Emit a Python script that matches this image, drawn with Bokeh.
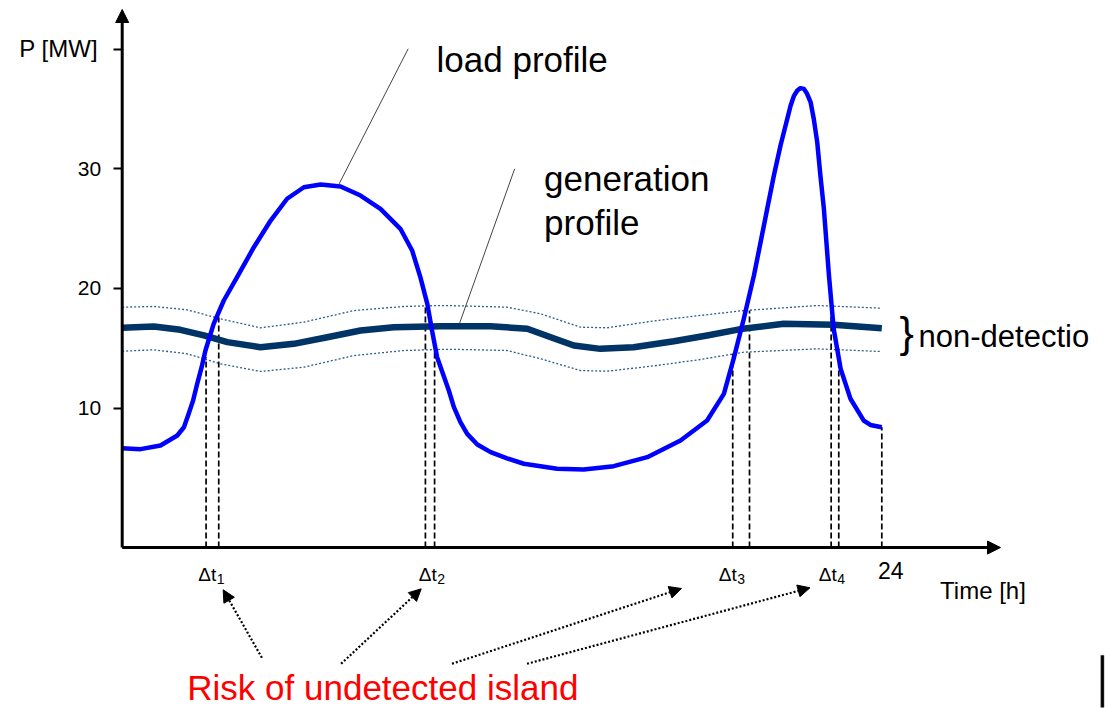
from bokeh.plotting import figure
from bokeh.models import Range1d, LinearAxis, FixedTicker, Arrow, NormalHead
from bokeh.core.properties import value
from bokeh.embed import file_html
from bokeh.resources import INLINE

# ---------------- data (hours, MW) ----------------
load_t = [0, 0.58, 1.21, 1.74, 1.95, 2.10, 2.24, 2.37, 2.51, 2.63, 2.89, 3.21, 3.63, 4.16, 4.69,
          5.21, 5.74, 6.27, 6.90, 7.53, 8.16, 8.79, 9.16, 9.42, 9.64, 9.79, 9.95, 10.32,
          10.48, 10.69, 10.90, 11.22, 11.64, 12.16, 12.69, 13.74, 14.58, 15.53, 16.59, 17.64,
          18.48, 19.01, 19.32, 19.64, 19.96, 20.17, 20.38, 20.59, 20.80, 21.12, 21.22, 21.33,
          21.43, 21.54, 21.64, 21.75, 21.85, 21.96, 22.06, 22.17, 22.25, 22.33, 22.48, 22.70,
          23.01, 23.43, 23.64, 24.0]
load_mw = [6.65, 6.57, 6.88, 7.71, 8.40, 9.52, 10.63, 12.03, 13.42, 14.81, 17.04, 18.99, 20.94,
           23.44, 25.67, 27.49, 28.45, 28.68, 28.51, 27.76, 26.65, 24.98, 23.17, 20.94, 18.71,
           16.48, 14.25, 11.47, 10.08, 8.80, 7.85, 6.96, 6.32, 5.80, 5.35, 4.93, 4.87, 5.15, 5.90,
           7.29, 8.96, 11.19, 14.14, 17.46, 21.08, 23.86, 26.65, 29.43, 31.94, 35.28, 36.06,
           36.53, 36.73, 36.67, 36.26, 35.56, 34.17, 32.21, 29.43, 26.65, 23.86, 21.08, 16.62,
           13.28, 10.78, 8.96, 8.59, 8.40]

gen_t = [0, 1.0, 1.84, 2.58, 3.32, 4.37, 5.42, 6.48, 7.53, 8.58, 10.06, 11.64, 12.80,
         13.54, 14.27, 15.11, 16.16, 17.43, 18.48, 19.54, 20.90, 22.48, 24.0]
gen_mw = [16.71, 16.82, 16.54, 16.07, 15.51, 15.09, 15.37, 15.92, 16.48, 16.76, 16.84, 16.84, 16.63,
          15.92, 15.23, 14.95, 15.09, 15.59, 16.07, 16.60, 17.04, 16.96, 16.67]

band_t = [0, 1.0, 2.05, 3.1, 4.37, 5.74, 7.32, 8.90, 10.06, 10.69, 12.16, 13.22, 14.48,
          15.32, 16.90, 18.27, 19.64, 21.96, 23.96]
band_hi = [18.43, 18.49, 18.21, 17.46, 16.71, 17.18, 18.15, 18.49, 18.57, 18.54, 18.43, 17.88, 16.76,
           16.71, 17.32, 17.74, 18.15, 18.57, 18.35]
band_lo = [14.75, 14.87, 14.54, 13.70, 13.06, 13.42, 14.39, 14.81, 14.90, 14.90, 14.81, 14.12, 13.14,
           13.08, 13.56, 14.06, 14.67, 14.95, 14.73]

cross_t = [2.65, 3.05, 9.58, 9.87, 19.29, 19.82, 22.40, 22.64, 24.0]
cross_top = [14.25, 17.60, 18.57, 14.81, 14.54, 18.15, 18.57, 14.95, 8.40]

y_ticks = [10, 20, 30, 40]
dt_names = ["\u0394t", "\u0394t", "\u0394t", "\u0394t"]
dt_subs = ["1", "2", "3", "4"]

# ---------------- figure ----------------
FONT = value("Liberation Sans")
AX0 = -1.65  # level of the time axis

p = figure(width=1105, height=708, output_backend="svg", toolbar_location=None,
           x_axis_type=None, y_axis_type=None, min_border=0,
           x_range=Range1d(-3.8452, 31.0679), y_range=Range1d(-15.096, 44.052))
p.outline_line_color = None
p.background_fill_color = "white"
p.border_fill_color = "white"

# y axis ticks / labels
yax = LinearAxis(fixed_location=0, ticker=FixedTicker(ticks=y_ticks),
                 major_label_overrides={40: ""})
yax.axis_line_color = None
yax.major_tick_line_width = 2
yax.major_tick_out = 9
yax.major_tick_in = 0
yax.minor_tick_out = 0
yax.minor_tick_in = 0
yax.major_label_standoff = 12
yax.major_label_text_font = "Liberation Sans"
yax.major_label_text_font_size = "21px"
yax.major_label_text_color = "black"
p.add_layout(yax, "left")

# axes with arrow heads
p.add_layout(Arrow(x_start=0, y_start=AX0, x_end=27.75, y_end=AX0, line_width=3, line_color="black",
                   end=NormalHead(size=13, fill_color="black", line_color="black", line_width=1)))
p.add_layout(Arrow(x_start=0, y_start=AX0, x_end=0, y_end=43.3, line_width=3, line_color="black",
                   end=NormalHead(size=13, fill_color="black", line_color="black", line_width=1)))

# non-detection band
p.line(band_t, band_hi, line_color="#2E5C8A", line_width=1.3, line_dash="2 2")
p.line(band_t, band_lo, line_color="#2E5C8A", line_width=1.3, line_dash="2 2")

# vertical dashed lines
p.segment(x0=cross_t, y0=[AX0] * len(cross_t), x1=cross_t, y1=cross_top,
          line_color="black", line_width=1.7, line_dash="6 3")

# generation profile
p.line(gen_t, gen_mw, line_color="#003366", line_width=6.5, line_join="round", line_cap="butt")
# load profile
p.line(load_t, load_mw, line_color="#0000FF", line_width=4.5, line_join="round", line_cap="butt")

# leader lines
p.segment(x0=[6.844, 10.66], y0=[28.68, 17.09], x1=[9.036, 12.40], y1=[40.02, 29.99],
          line_color="#444444", line_width=1)

# dotted arrows from the risk label
for xs, ys, xe, ye in [(4.414, -10.86, 3.191, -5.18), (6.916, -11.36, 9.447, -5.10),
                       (10.42, -11.36, 17.67, -5.07), (12.79, -11.36, 21.73, -5.01)]:
    p.add_layout(Arrow(x_start=xs, y_start=ys, x_end=xe, y_end=ye, line_width=2.2,
                       line_color="black", line_dash="2 2",
                       end=NormalHead(size=12, fill_color="black", line_color="black", line_width=1)))

# small dark bar at the lower right edge of the slide
p.quad(left=[30.92], right=[31.02], bottom=[-15.0], top=[-10.65], fill_color="black",
       line_color="#555555", line_width=0.5)

# texts
def txt(x, y, s, size, color="black", align="left"):
    p.text(x=[x], y=[y], text=[s], text_font=FONT, text_font_size=size, text_color=color,
           text_align=align, text_baseline="alphabetic")

txt(-0.765, 40.05, "P [MW]", "24px", align="right")
txt(9.931, 39.13, "load profile", "35px")
txt(13.33, 29.16, "generation", "35px")
txt(13.33, 25.53, "profile", "35px")
txt(24.56, 16.32, "}", "43px")
txt(25.16, 15.98, "non-detectio", "31px")
txt(23.88, -3.57, "24", "23px")
txt(25.84, -5.24, "Time [h]", "24px")
txt(2.057, -13.36, "Risk of undetected island", "35px", color="#FF0000")

p.text(x=[2.401, 9.371, 18.85, 22.01], y=[-3.92] * 4, text=dt_names, text_font=FONT,
       text_font_size="19px", text_color="black", text_align="left", text_baseline="alphabetic")
p.text(x=[2.985, 9.955, 19.435, 22.595], y=[-4.24] * 4, text=dt_subs, text_font=FONT,
       text_font_size="14px", text_color="black", text_align="left", text_baseline="alphabetic")

open("out.html", "w").write(file_html(p, INLINE))
